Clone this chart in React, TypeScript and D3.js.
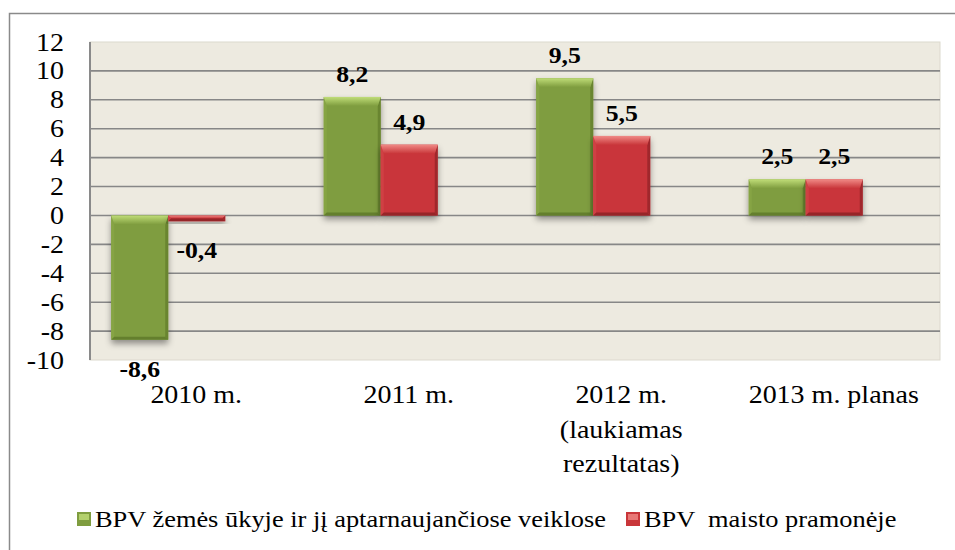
import React from "react";
import * as d3 from "d3";

const categories = ["2010 m.", "2011 m.", "2012 m.", "2013 m. planas"];
const categoryLines = [["2010 m."], ["2011 m."], ["2012 m.", "(laukiamas", "rezultatas)"], ["2013 m. planas"]];
const seriesNames = ["BPV žemės ūkyje ir jį aptarnaujančiose veiklose", "BPV  maisto pramonėje"];
const agriculture = [-8.6, 8.2, 9.5, 2.5];
const food = [-0.4, 4.9, 5.5, 2.5];
const yTicks = [-10, -8, -6, -4, -2, 0, 2, 4, 6, 8, 10, 12];

const W = 955;
const H = 550;
const plot = { left: 90, right: 940, top: 42, bottom: 360 };
const SX = 1.12;
const FONT = "'Liberation Serif', 'Times New Roman', serif";

const palette = [
  { id: "g", main: "#7f9d3f", light: "#c0dd78", side: "#86a444", dark: "#5f7a2a" },
  { id: "r", main: "#c9363a", light: "#f08a86", side: "#cf4044", dark: "#8e2226" },
];

function fmt(v: number) {
  return v.toFixed(1).replace(".", ",");
}

function Bar({ x, y, w, h, c }: { x: number; y: number; w: number; h: number; c: any }) {
  const b = Math.max(1, Math.min(9, h / 2, w / 2));
  const s = Math.max(1, Math.min(3, h / 2, w / 2));
  return (
    <g>
      <rect x={x} y={y} width={w} height={h} fill={c.main} filter="url(#shadow)" />
      <polygon points={`${x},${y} ${x + s},${y + b} ${x + s},${y + h - s} ${x},${y + h}`} fill={c.side} />
      <polygon points={`${x + w},${y} ${x + w - s},${y + b} ${x + w - s},${y + h - s} ${x + w},${y + h}`} fill={c.dark} opacity={0.7} />
      <polygon points={`${x},${y + h} ${x + s},${y + h - s} ${x + w - s},${y + h - s} ${x + w},${y + h}`} fill={c.dark} opacity={0.85} />
      <polygon points={`${x},${y} ${x + w},${y} ${x + w - s},${y + b} ${x + s},${y + b}`} fill={`url(#top-${c.id})`} />
    </g>
  );
}

function SText({ x, y, children, anchor = "middle", size = 25, weight = "normal", sx = SX }: any) {
  return (
    <text
      transform={`translate(${x},${y}) scale(${sx},1)`}
      textAnchor={anchor}
      fontFamily={FONT}
      fontSize={size}
      fontWeight={weight}
      fill="#000"
      style={{ whiteSpace: "pre" }}
    >
      {children}
    </text>
  );
}

export default function App() {
  const y = d3.scaleLinear().domain([-10, 12]).range([plot.bottom, plot.top]);
  const x = d3.scaleBand<string>().domain(categories).range([plot.left, plot.right]).padding(0);
  const groupWidth = 114;
  const groupShift = -28;
  const inner = d3.scaleBand<number>().domain([0, 1]).range([0, groupWidth]).padding(0);
  const series = [agriculture, food];

  const groupStart = (i: number) => (x(categories[i]) as number) + x.bandwidth() / 2 + groupShift - groupWidth / 2;

  const legendSquares = [77, 626];

  return (
    <svg width={W} height={H} style={{ position: "absolute", left: 0, top: 0, background: "#fff" }}>
      <defs>
        <filter id="shadow" x="-30%" y="-30%" width="160%" height="170%">
          <feDropShadow dx="0" dy="4" stdDeviation="3" floodColor="#000" floodOpacity="0.4" />
        </filter>
        {palette.map((c) => (
          <linearGradient key={c.id} id={`top-${c.id}`} x1="0" y1="0" x2="0" y2="1">
            <stop offset="0" stopColor={c.light} />
            <stop offset="1" stopColor={c.main} />
          </linearGradient>
        ))}
      </defs>
      <rect x={0} y={0} width={W} height={H} fill="#fff" />
      <rect x={9.5} y={13.5} width={W + 20} height={H + 20} fill="none" stroke="#8a8a8a" strokeWidth={1.5} />

      <rect x={plot.left} y={plot.top} width={plot.right - plot.left} height={plot.bottom - plot.top} fill="#edeae0" stroke="#dcd9ce" strokeWidth={1} />

      {yTicks.filter((t) => t !== -10 && t !== 12).map((t) => (
        <line key={t} x1={plot.left} x2={plot.right} y1={y(t)} y2={y(t)} stroke="#878787" strokeWidth={1.6} />
      ))}

      <line x1={plot.left} x2={plot.left} y1={plot.top} y2={plot.bottom} stroke="#8a8a8a" strokeWidth={2} />

      {yTicks.map((t) => (
        <SText key={t} x={64} y={y(t) + 8.5} anchor="end" size={25}>
          {String(t)}
        </SText>
      ))}

      {categories.map((c, i) =>
        series.map((s, k) => {
          const v = s[i];
          const bx = groupStart(i) + (inner(k) as number);
          const top = y(Math.max(0, v));
          const h = Math.abs(y(v) - y(0));
          return <Bar key={c + k} x={bx} y={top} w={inner.bandwidth()} h={h} c={palette[k]} />;
        })
      )}

      {categories.map((c, i) =>
        series.map((s, k) => {
          const v = s[i];
          const cx = groupStart(i) + (inner(k) as number) + inner.bandwidth() / 2;
          const ly = v >= 0 ? y(v) - 15 : y(v) + 37;
          return (
            <SText key={"l" + c + k} x={cx} y={ly} size={23} weight="bold">
              {fmt(v)}
            </SText>
          );
        })
      )}

      {categories.map((c, i) => (
        <g key={"x" + c}>
          {categoryLines[i].map((line, j) => (
            <SText key={j} x={(x(c) as number) + x.bandwidth() / 2} y={403 + j * 34.5} size={25}>
              {line}
            </SText>
          ))}
        </g>
      ))}

      {seriesNames.map((n, k) => (
        <g key={"lg" + k}>
          <rect x={legendSquares[k]} y={512} width={14} height={14} fill={palette[k].main} />
          <rect x={legendSquares[k] + 2} y={514} width={10} height={6} fill={palette[k].light} opacity={0.8} />
          <SText x={legendSquares[k] + 18} y={527} anchor="start" size={24} sx={1.1}>
            {n}
          </SText>
        </g>
      ))}
    </svg>
  );
}
